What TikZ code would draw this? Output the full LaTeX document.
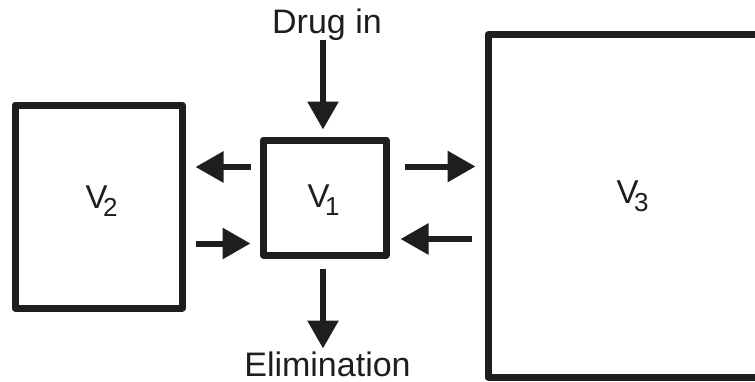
\documentclass[tikz,border=0pt]{standalone}
\usepackage{fontspec}
\setmainfont{Liberation Sans}
\usetikzlibrary{arrows.meta,calc}
\definecolor{ink}{HTML}{1E1E1E}
\tikzset{
  box/.style={draw=ink, line width=7pt, line join=round, inner sep=0pt, fill=white},
  arr/.style={draw=ink, line width=6pt, -{Triangle[length=28pt,width=30pt]}, fill=ink},
  txt/.style={text=ink, font=\fontsize{34pt}{36pt}\selectfont, inner sep=0pt, anchor=base},
  vlab/.style={text=ink, font=\fontsize{33pt}{35pt}\selectfont, inner sep=0pt, anchor=base}
}
\newcommand{\subidx}[1]{\kern-4.5pt\raisebox{-8pt}{\fontsize{26pt}{26pt}\selectfont #1}}
\begin{document}
\begin{tikzpicture}[x=1pt,y=-1pt]
\useasboundingbox (0,0) rectangle (755,381);
% boxes
\node[box, minimum width=167pt, minimum height=203pt] (v2) at (98.5,206.5) {};
\node[box, minimum width=122.5pt, minimum height=115pt] (v1) at (324.75,197.5) {};
\node[box, minimum width=284pt, minimum height=342.5pt] (v3) at (630,205.75) {};
% labels
\node[vlab] (v2l) at (101.5,208) {V\subidx{2}};
\node[vlab] (v1l) at (323.5,207) {V\subidx{1}};
\node[vlab] (v3l) at (632.5,203) {V\subidx{3}};
\node[txt] (din) at (327,33) {Drug in};
\node[txt] (elim) at (327.5,376) {Elimination};
% arrows
\draw[arr] ($(v1.north)+(-1.75,-97)$) -- ($(v1.north)+(-1.75,-7)$);
\draw[arr] ($(v1.west)+(-9.5,-30.5)$) -- ($(v2.east)+(10,-39.5)$);
\draw[arr] ($(v2.east)+(10,37)$) -- ($(v1.west)+(-9.5,46)$);
\draw[arr] ($(v1.east)+(15,-31)$) -- ($(v3.west)+(-9,-39.25)$);
\draw[arr] ($(v3.west)+(-13,33.25)$) -- ($(v1.east)+(11,41.5)$);
\draw[arr] ($(v1.south)+(-1.75,10)$) -- ($(v1.south)+(-1.75,90)$);
\end{tikzpicture}
\end{document}
